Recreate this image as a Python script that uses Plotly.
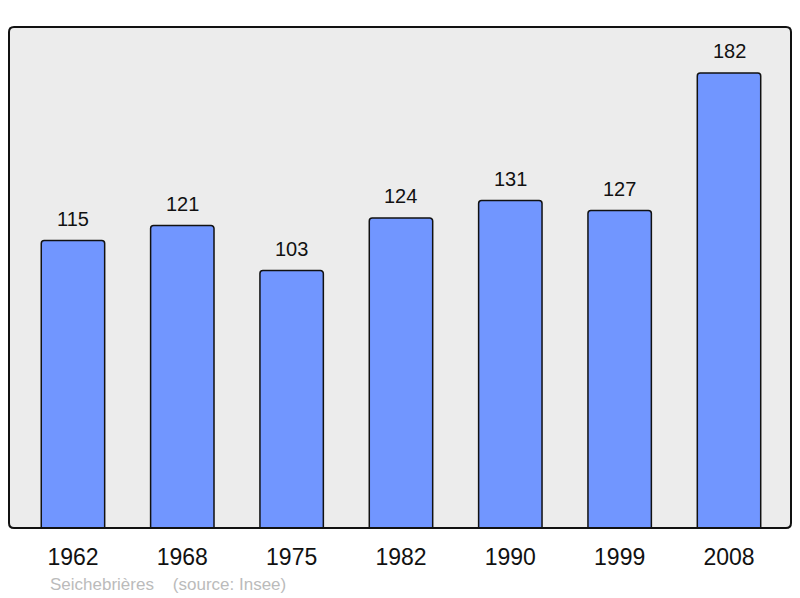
import plotly.graph_objects as go

years = ["1962", "1968", "1975", "1982", "1990", "1999", "2008"]
population = [115, 121, 103, 124, 131, 127, 182]
commune = "Seichebrières"
source = "(source: Insee)"

# the page puts the figure 8px in from the top-left corner
W, H = 792, 590
ml, mr, mt, mb = 1, 9, 19, 70

fig = go.Figure()
fig.add_trace(go.Bar(
    x=years,
    y=population,
    width=0.58,
    marker=dict(color="#7196ff", line=dict(color="#111111", width=1.5), cornerradius=3),
    hoverinfo="skip",
))

# value labels above the bars (x given as category index)
for i, v in enumerate(population):
    fig.add_annotation(x=i, y=v, text=str(v), showarrow=False, yshift=22,
                       font=dict(size=20, color="#111111"))

pw, ph = W - ml - mr, H - mt - mb
fig.add_annotation(xref="paper", yref="paper", x=39 / pw, y=-56 / ph,
                   xanchor="left", yanchor="middle", showarrow=False,
                   text=commune + "&nbsp;&nbsp;&nbsp;&nbsp;" + source,
                   font=dict(size=17, color="#bbbbbb"))

# rounded frame around plot area
rx, ry = 5 / pw, 5 / ph
path = (f"M {rx},0 L {1 - rx},0 Q 1,0 1,{ry} L 1,{1 - ry} Q 1,1 {1 - rx},1 "
        f"L {rx},1 Q 0,1 0,{1 - ry} L 0,{ry} Q 0,0 {rx},0 Z")
fig.add_shape(type="path", xref="paper", yref="paper", path=path,
              line=dict(color="#111111", width=2), layer="above")

fig.update_layout(
    width=W, height=H,
    margin=dict(l=ml, r=mr, t=mt, b=mb),
    paper_bgcolor="white",
    plot_bgcolor="#ececec",
    font=dict(family="Liberation Sans, Arial, sans-serif", color="#111111"),
    showlegend=False,
    xaxis=dict(type="category", range=[-0.585, 6.567], showgrid=False, zeroline=False,
               ticks="outside", ticklen=8, tickcolor="rgba(0,0,0,0)",
               tickfont=dict(size=23, color="#111111"), fixedrange=True),
    yaxis=dict(range=[0, 200.4], showgrid=False, zeroline=False, showticklabels=False,
               fixedrange=True),
)

fig.write_html("out.html")
